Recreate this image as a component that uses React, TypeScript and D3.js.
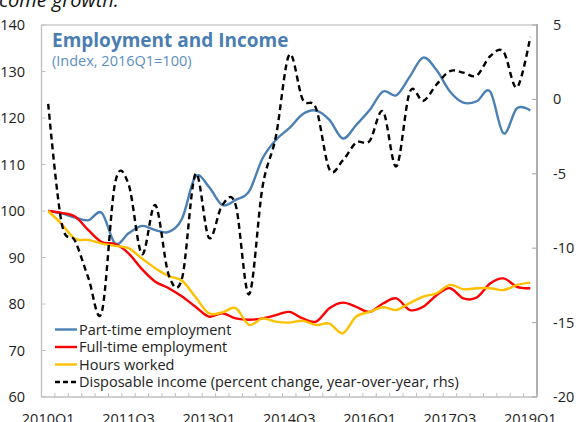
import React from "react";
import * as d3 from "d3";

const quarters = [
  "2010Q1","2010Q2","2010Q3","2010Q4","2011Q1","2011Q2","2011Q3","2011Q4",
  "2012Q1","2012Q2","2012Q3","2012Q4","2013Q1","2013Q2","2013Q3","2013Q4",
  "2014Q1","2014Q2","2014Q3","2014Q4","2015Q1","2015Q2","2015Q3","2015Q4",
  "2016Q1","2016Q2","2016Q3","2016Q4","2017Q1","2017Q2","2017Q3","2017Q4",
  "2018Q1","2018Q2","2018Q3","2018Q4","2019Q1",
];
const xTickLabels = ["2010Q1", "2011Q3", "2013Q1", "2014Q3", "2016Q1", "2017Q3", "2019Q1"];
const leftTicks = [60, 70, 80, 90, 100, 110, 120, 130, 140];
const rightTicks = [-20, -15, -10, -5, 0, 5];

const partTime = [100, 99.5, 98.6, 98.0, 99.6, 93.0, 95.2, 96.8, 95.9, 95.5, 98.4, 107.4, 105.2, 101.3, 102.4, 104.2, 111.3, 115.3, 117.8, 120.8, 121.6, 119.6, 115.6, 118.5, 121.7, 125.7, 124.9, 128.9, 133.0, 130.3, 125.7, 123.3, 123.6, 125.7, 116.7, 122.1, 121.6];
const fullTime = [100, 99.6, 98.8, 95.9, 93.3, 92.9, 90.9, 87.5, 84.8, 83.4, 81.6, 79.4, 77.3, 78.0, 76.9, 76.6, 76.9, 77.6, 78.3, 76.9, 76.2, 79.1, 80.3, 79.4, 78.3, 80.1, 81.2, 78.7, 79.4, 81.9, 83.4, 81.2, 81.4, 84.4, 85.5, 83.7, 83.4];
const hoursWorked = [100, 97.2, 94.0, 93.8, 93.0, 92.5, 92.0, 89.8, 87.7, 86.0, 85.0, 81.5, 78.0, 78.2, 79.1, 75.5, 76.9, 76.2, 76.0, 76.4, 75.5, 75.8, 73.7, 77.3, 78.3, 79.3, 78.7, 80.2, 81.6, 82.3, 84.1, 83.2, 83.4, 83.4, 83.0, 84.1, 84.6];
const disposableIncome = [-0.3, -8.3, -9.5, -12.0, -14.3, -5.6, -5.7, -10.4, -7.1, -11.8, -12.0, -5.0, -9.3, -7.1, -7.1, -13.1, -5.9, -2.5, 3.0, 0.0, -0.6, -4.7, -4.1, -2.9, -2.8, -0.8, -4.5, 0.5, -0.1, 1.0, 1.9, 1.8, 1.6, 2.9, 3.2, 0.8, 4.2];

const legendLabels = [
  "Part-time employment",
  "Full-time employment",
  "Hours worked",
  "Disposable income (percent change, year-over-year, rhs)",
];

const W = 578;
const H = 422;
const M = { left: 41.5, right: 537, top: 25, bottom: 397 };
const FONT = "'Open Sans', 'Noto Sans', sans-serif";

export default function App() {
  const x = d3.scaleBand<string>().domain(quarters).range([M.left, M.right]).paddingInner(0).paddingOuter(0);
  const bw = x.bandwidth();
  const cx = (q: string) => (x(q) as number) + bw / 2;
  const yL = d3.scaleLinear().domain([60, 140]).range([M.bottom, M.top]);
  const yR = d3.scaleLinear().domain([-20, 5]).range([M.bottom, M.top]);

  const curve = d3.curveCardinal.tension(0);
  const lineL = d3.line<number>().x((_, i) => cx(quarters[i])).y((d) => yL(d)).curve(curve);
  const lineR = d3.line<number>().x((_, i) => cx(quarters[i])).y((d) => yR(d)).curve(curve);

  const series = [
    { label: legendLabels[0], d: lineL(partTime), color: "#4A80B3", dash: undefined },
    { label: legendLabels[1], d: lineL(fullTime), color: "#FF0000", dash: undefined },
    { label: legendLabels[2], d: lineL(hoursWorked), color: "#FFC000", dash: undefined },
    { label: legendLabels[3], d: lineR(disposableIncome), color: "#000000", dash: "6,4" },
  ];

  const boundaries = quarters.map((q) => x(q) as number).concat([M.right]);

  return (
    <div style={{ position: "fixed", left: 0, top: 0 }}>
      <svg width={W} height={H} style={{ display: "block", background: "#fff" }} fontFamily={FONT}>
        <rect x={0} y={0} width={W} height={H} fill="#fff" />
        <text x={-1} y={7} fontSize={20} fontStyle="italic" fill="#111">come growth.</text>

        {/* frame */}
        <line x1={M.left} x2={M.right} y1={M.top} y2={M.top} stroke="#d9d9d9" strokeWidth={2} />
        <line x1={M.left} x2={M.left} y1={M.top} y2={M.bottom} stroke="#bfbfbf" strokeWidth={1.3} />
        <line x1={M.right} x2={M.right} y1={M.top - 1} y2={M.bottom} stroke="#a6a6a6" strokeWidth={1.8} />
        <line x1={M.left} x2={M.right} y1={M.bottom} y2={M.bottom} stroke="#bfbfbf" strokeWidth={1.3} />

        {/* left ticks */}
        {leftTicks.map((t) => (
          <g key={"l" + t}>
            <line x1={M.left} x2={M.left + 4} y1={yL(t)} y2={yL(t)} stroke="#bfbfbf" strokeWidth={1} />
            <text x={25} y={yL(t)} dy="0.35em" textAnchor="end" fontSize={14.5} fill="#222">{t}</text>
          </g>
        ))}
        {/* right ticks */}
        {rightTicks.map((t) => (
          <g key={"r" + t}>
            <line x1={M.right - 5} x2={M.right} y1={yR(t)} y2={yR(t)} stroke="#a6a6a6" strokeWidth={1} />
            <text x={553} y={yR(t)} dy="0.35em" textAnchor="start" fontSize={14.5} fill="#222">{t}</text>
          </g>
        ))}
        {/* bottom ticks */}
        {boundaries.map((b, i) => (
          <line key={"b" + i} x1={b} x2={b} y1={M.bottom} y2={M.bottom - 4} stroke="#bfbfbf" strokeWidth={1} />
        ))}
        {xTickLabels.map((q) => (
          <text key={q} x={cx(q)} y={424} textAnchor="middle" fontSize={14.5} fill="#222">{q}</text>
        ))}

        {/* series */}
        {series.map((s) => (
          <path key={s.label} d={s.d || ""} fill="none" stroke={s.color} strokeWidth={2.4}
            strokeDasharray={s.dash} strokeLinejoin="round" />
        ))}

        {/* title */}
        <text x={52} y={47} fontSize={19} fontWeight="bold" fill="#4A7EB3">Employment and Income</text>
        <text x={52} y={66} fontSize={14.5} fill="#5B8EC2">(Index, 2016Q1=100)</text>

        {/* legend */}
        {series.map((s, i) => {
          const ly = 329.5 + i * 17.5;
          return (
            <g key={"lg" + i}>
              <line x1={55} x2={77} y1={ly} y2={ly} stroke={s.color} strokeWidth={2.4} strokeDasharray={s.dash ? "5,3" : undefined} />
              <text x={79} y={ly} dy="0.35em" fontSize={14.5} fill="#222">{s.label}</text>
            </g>
          );
        })}
      </svg>
    </div>
  );
}
